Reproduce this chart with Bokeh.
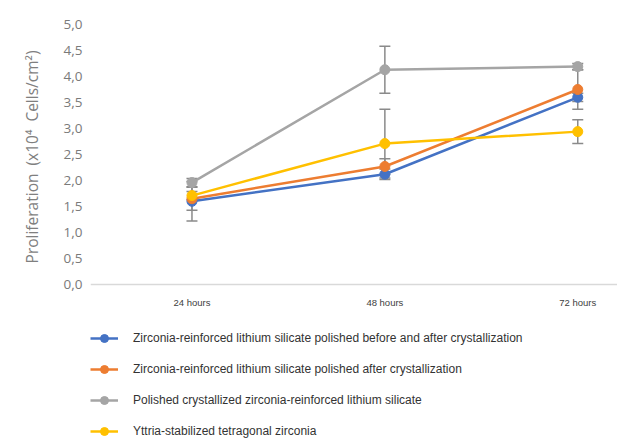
from bokeh.plotting import figure
from bokeh.models import FixedTicker, Whisker, ColumnDataSource, Legend, LegendItem, TeeHead, Title
from bokeh.embed import file_html
from bokeh.resources import INLINE

# ---- data ----
time_labels = ["24 hours", "48 hours", "72 hours"]
series_names = [
    "Zirconia-reinforced lithium silicate polished before and after crystallization",
    "Zirconia-reinforced lithium silicate polished after crystallization",
    "Polished crystallized zirconia-reinforced lithium silicate",
    "Yttria-stabilized tetragonal zirconia",
]
blue_vals = [1.60, 2.12, 3.60]
blue_err = [0.38, 0.10, 0.08]
orange_vals = [1.65, 2.27, 3.75]
orange_err = [0.22, 0.15, 0.38]
gray_vals = [1.96, 4.13, 4.19]
gray_err = [0.08, 0.45, 0.06]
yellow_vals = [1.71, 2.71, 2.94]
yellow_err = [0.08, 0.66, 0.23]
y_ticks = [0.0, 0.5, 1.0, 1.5, 2.0, 2.5, 3.0, 3.5, 4.0, 4.5, 5.0]
y_tick_labels = ["0,0", "0,5", "1,0", "1,5", "2,0", "2,5", "3,0", "3,5", "4,0", "4,5", "5,0"]
y_title = "Proliferation\u00a0 (x10\u2074\u00a0 Cells/cm\u00b2)"

colors = ["#4472C4", "#ED7D31", "#A5A5A5", "#FFC000"]
all_vals = [blue_vals, orange_vals, gray_vals, yellow_vals]
all_errs = [blue_err, orange_err, gray_err, yellow_err]

p = figure(width=617, height=441, output_backend="svg", toolbar_location=None,
           x_range=(-0.526, 2.206), y_range=(-3.019, 5.0),
           min_border_left=87, min_border_right=0, min_border_top=24, min_border_bottom=0)
p.outline_line_color = None
p.grid.visible = False
p.background_fill_color = "white"

xs = list(range(len(time_labels)))
legend_items = []
for name, vals, errs, col in zip(series_names, all_vals, all_errs, colors):
    src = ColumnDataSource(dict(x=xs, y=vals,
                                lo=[v - e for v, e in zip(vals, errs)],
                                hi=[v + e for v, e in zip(vals, errs)]))
    w = Whisker(source=src, base="x", upper="hi", lower="lo",
                line_color="#8a8a8a", line_width=1.5,
                upper_head=TeeHead(size=11, line_color="#8a8a8a", line_width=1.5),
                lower_head=TeeHead(size=11, line_color="#8a8a8a", line_width=1.5))
    p.add_layout(w)
    r1 = p.line("x", "y", source=src, line_color=col, line_width=2.5)
    r2 = p.scatter("x", "y", source=src, size=10, fill_color=col, line_color=col)
    legend_items.append(LegendItem(label=name, renderers=[r1, r2]))

legend = Legend(items=legend_items, location=(0, 0),
                border_line_color=None, background_fill_alpha=0,
                padding=0, margin=0, spacing=11, glyph_width=28, glyph_height=20,
                label_height=20, label_standoff=15,
                label_text_font="Liberation Sans", label_text_font_size="12px",
                label_text_color="#333333")
p.add_layout(legend, "center")

# x axis drawn at y = 0
p.xaxis.fixed_location = 0
p.xaxis.ticker = FixedTicker(ticks=xs)
p.xaxis.major_label_overrides = {i: t for i, t in enumerate(time_labels)}
p.xaxis.axis_line_color = "#d9d9d9"
p.xaxis.axis_line_width = 1.5
p.xaxis.major_tick_line_color = None
p.xaxis.minor_tick_line_color = None
p.xaxis.major_tick_out = 0
p.xaxis.major_label_text_font = "Liberation Sans"
p.xaxis.major_label_text_font_size = "9.5px"
p.xaxis.major_label_text_color = "#404040"
p.xaxis.major_label_standoff = 12

# y axis
p.yaxis.ticker = FixedTicker(ticks=y_ticks)
p.yaxis.major_label_overrides = {t: l for t, l in zip(y_ticks, y_tick_labels)}
p.yaxis.axis_line_color = None
p.yaxis.major_tick_line_color = None
p.yaxis.minor_tick_line_color = None
p.yaxis.major_tick_out = 0
p.yaxis.major_label_text_font = "Open Sans"
p.yaxis.major_label_text_font_size = "13.5px"
p.yaxis.major_label_text_color = "#7a7a7a"
p.yaxis.major_label_standoff = 8

t = Title(text=y_title, align="right", offset=26, standoff=36,
          text_font="Open Sans", text_font_size="15.5px", text_font_style="normal",
          text_color="#7f7f7f")
p.add_layout(t, "left")

open("out.html", "w").write(file_html(p, INLINE))
